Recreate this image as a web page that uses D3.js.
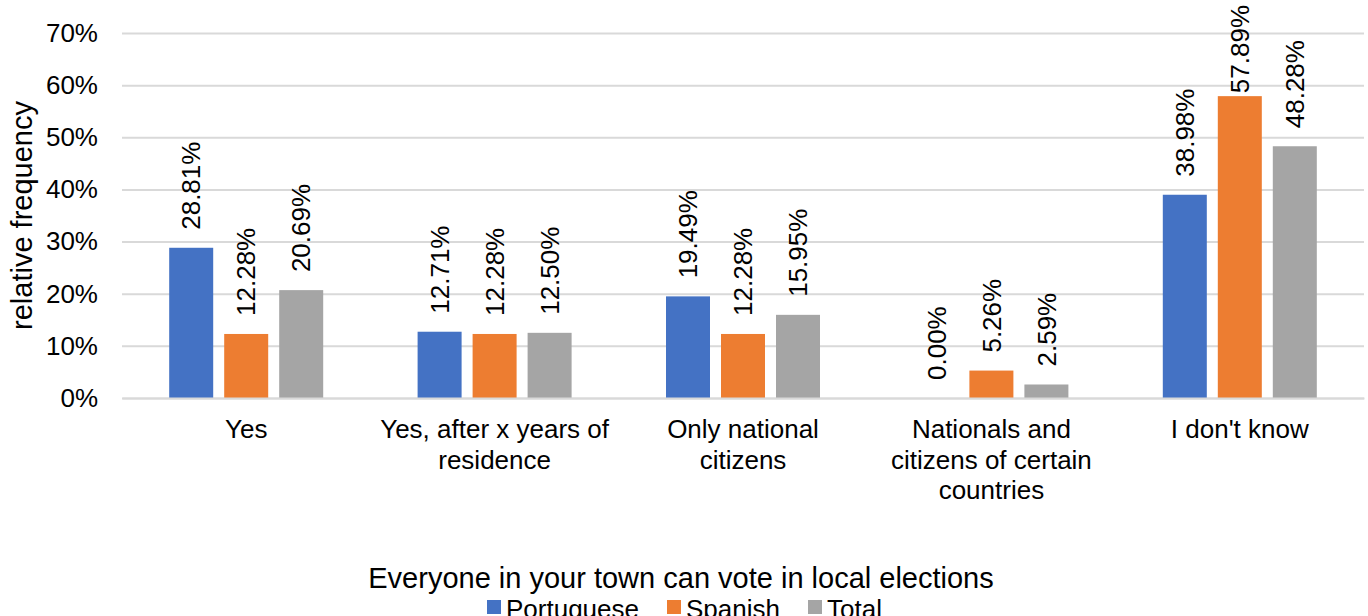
<!DOCTYPE html>
<html>
<head>
<meta charset="utf-8">
<script src="https://cdn.jsdelivr.net/npm/d3@7"></script>
<style>
  body { margin: 0; background: #fff; }
  text { font-family: "Liberation Sans", Arial, sans-serif; fill: #000; }
</style>
</head>
<body>
<div id="chart-area"></div>
<script>
var categories = ["Yes", "Yes, after x years of residence", "Only national citizens",
    "Nationals and citizens of certain countries", "I don't know"];
var seriesNames = ["Portuguese", "Spanish", "Total"];
var portuguese = [28.81, 12.71, 19.49, 0.00, 38.98];
var spanish = [12.28, 12.28, 12.28, 5.26, 57.89];
var total = [20.69, 12.50, 15.95, 2.59, 48.28];
var yTicks = [0, 10, 20, 30, 40, 50, 60, 70];
var colors = ["#4472c4", "#ed7d31", "#a5a5a5"];

var margin = {left: 122, right: 4, top: 33, bottom: 218};
var totalW = 1368, totalH = 616;
var width = totalW - margin.left - margin.right;
var height = totalH - margin.top - margin.bottom;
var fontSize = 26;

var svg = d3.select('#chart-area')
    .append('svg')
    .attr('width', totalW)
    .attr('height', totalH);

var g = svg.append("g")
    .attr("transform", "translate(" + margin.left + ", " + margin.top + ")");

var series = [portuguese, spanish, total];
var data = [];
categories.forEach((c, i) => {
    seriesNames.forEach((s, j) => {
        data.push({cat: c, series: s, idx: j, value: series[j][i]});
    });
});

var x = d3.scaleBand()
    .domain(categories)
    .range([0, width]);

var x1 = d3.scaleBand()
    .domain(seriesNames)
    .range([x.bandwidth() / 2 - 77, x.bandwidth() / 2 + 77])
    .paddingInner(0.2);

var y = d3.scaleLinear()
    .domain([0, 70])
    .range([height, 0]);

// gridlines + tick labels
var yAxis = d3.axisLeft(y)
    .tickValues(yTicks)
    .tickSize(-width)
    .tickPadding(24)
    .tickFormat((d) => d + "%");

var ya = g.append("g")
    .attr("class", "left axis")
    .call(yAxis);
ya.select(".domain").remove();
ya.selectAll("line")
    .attr("stroke", "#d9d9d9")
    .attr("stroke-width", 2);
ya.selectAll("text")
    .attr("font-size", fontSize + "px");

// bars
g.selectAll('rect.bar').data(data)
    .enter()
    .append('rect')
    .attr('class', 'bar')
    .attr('x', (d) => x(d.cat) + x1(d.series))
    .attr('y', (d) => y(d.value))
    .attr('width', x1.bandwidth())
    .attr('height', (d) => height - y(d.value))
    .attr('fill', (d) => colors[d.idx]);

// value labels (rotated), pushed down when they would leave the chart
g.selectAll('text.value').data(data)
    .enter()
    .append('text')
    .attr('class', 'value')
    .attr("font-size", fontSize + "px")
    .attr("dy", "0.35em")
    .text((d) => d.value.toFixed(2) + "%")
    .each(function (d) {
        var len = this.getComputedTextLength();
        var cx = x(d.cat) + x1(d.series) + x1.bandwidth() / 2;
        var startY = Math.max(y(d.value) - 18, len - margin.top + 5);
        d3.select(this).attr("transform", "translate(" + cx + "," + startY + ") rotate(-90)");
    });

// category axis
var xAxis = d3.axisBottom(x).tickSize(0).tickPadding(0);
var xa = g.append("g")
    .attr("class", "bottom axis")
    .attr("transform", "translate(0, " + height + ")")
    .call(xAxis);
xa.select(".domain")
    .attr("stroke", "#d9d9d9")
    .attr("stroke-width", 2);
xa.selectAll("text")
    .attr("font-size", fontSize + "px")
    .attr("y", 40)
    .attr("dy", 0)
    .call(wrap, 238);

function wrap(texts, maxW) {
    texts.each(function () {
        var text = d3.select(this);
        var words = text.text().split(" ");
        text.text(null);
        var line = [];
        var lineNo = 0;
        var tspan = text.append("tspan").attr("x", 0).attr("y", 40);
        words.forEach((w) => {
            line.push(w);
            tspan.text(line.join(" "));
            if (tspan.node().getComputedTextLength() > maxW && line.length > 1) {
                line.pop();
                tspan.text(line.join(" "));
                line = [w];
                lineNo++;
                tspan = text.append("tspan").attr("x", 0).attr("y", 40 + lineNo * 30.5).text(w);
            }
        });
    });
}

// y axis title
g.append("text")
    .attr("class", "y axis-label")
    .attr("x", -(height / 2))
    .attr("y", -90)
    .attr("font-size", "29px")
    .attr("text-anchor", "middle")
    .attr("transform", "rotate(-90)")
    .text("relative frequency");

// x axis title
svg.append("text")
    .attr("class", "x axis-label")
    .attr("x", 681)
    .attr("y", 588)
    .attr("font-size", "29px")
    .attr("text-anchor", "middle")
    .text("Everyone in your town can vote in local elections");

// legend
var legendX = [487, 667, 808];
var legend = svg.append("g").attr("class", "legend");
seriesNames.forEach((s, i) => {
    legend.append("rect")
        .attr("x", legendX[i])
        .attr("y", 600)
        .attr("width", 14)
        .attr("height", 14)
        .attr("fill", colors[i]);
    legend.append("text")
        .attr("x", legendX[i] + 19)
        .attr("y", 618)
        .attr("font-size", fontSize + "px")
        .text(s);
});
</script>
</body>
</html>
